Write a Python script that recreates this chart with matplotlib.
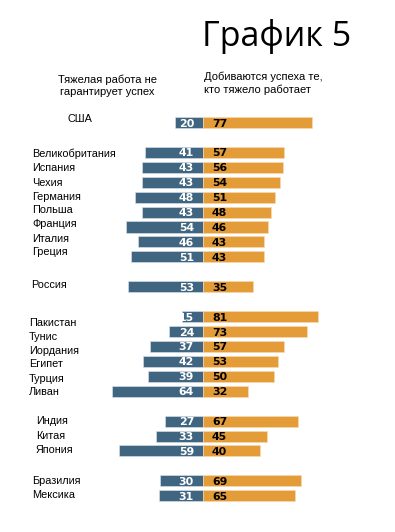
import matplotlib
matplotlib.use("Agg")
import matplotlib.pyplot as plt

# data
countries = ["США",
             "Великобритания", "Испания", "Чехия", "Германия", "Польша",
             "Франция", "Италия", "Греция",
             "Россия",
             "Пакистан", "Тунис", "Иордания", "Египет", "Турция", "Ливан",
             "Индия", "Китая", "Япония",
             "Бразилия", "Мексика"]
not_guarantee = [20, 41, 43, 43, 48, 43, 54, 46, 51, 53,
                 15, 24, 37, 42, 39, 64, 27, 33, 59, 30, 31]
hard_work = [77, 57, 56, 54, 51, 48, 46, 43, 43, 35,
             81, 73, 57, 53, 50, 32, 67, 45, 40, 69, 65]

# layout: slot index of each row (gaps between groups)
slots = [0, 2, 3, 4, 5, 6, 7, 8, 9, 11, 13, 14, 15, 16, 17, 18, 20, 21, 22, 24, 25]
label_x = [68, 32, 32, 32, 32, 32, 32, 32, 32, 31,
           29, 29, 29, 29, 29, 29, 36, 36, 36, 32, 32]   # px
label_dy = [-0.25, 0.1, 0.05, 0.05, 0, -0.15, -0.2, -0.2, -0.35, -0.1,
            0.4, 0.35, 0.3, 0.2, 0.15, 0.05, 0, 0, -0.05, 0, -0.05]

blue = "#3f6580"
orange = "#e49c38"

W, H = 395, 532
fig = plt.figure(figsize=(W / 100, H / 100), dpi=100)
fig.patch.set_facecolor("white")

# 1.42 px per percent, centre line at x=203 px, first row at y=122.5 px, 14.93 px per slot
ppu, cx = 1.42, 203
y0, step = 122.5, 14.93
ax = fig.add_axes([0, 0, 1, 1])
ax.set_xlim(-cx / ppu, (W - cx) / ppu)
ax.set_ylim((H - y0) / step, -y0 / step)
ax.axis("off")

neg = [-v for v in not_guarantee]
ax.barh(slots, neg, height=0.74, color=blue, edgecolor="#dde6ee", linewidth=0.4)
ax.barh(slots, hard_work, height=0.74, color=orange, edgecolor="#f6dcb5", linewidth=0.4)

num_font = dict(family="DejaVu Sans", fontweight="bold", fontsize=7.9, va="center")
for s, a, b in zip(slots, not_guarantee, hard_work):
    ax.text(-6.3, s + 0.07, str(a), ha="right", color="white", **num_font)
    ax.text(6.3, s + 0.07, str(b), ha="left", color="black", **num_font)

for name, s, lx, dy in zip(countries, slots, label_x, label_dy):
    ax.text((lx - cx) / ppu, s + dy, name, ha="left", va="center",
            fontsize=7.8, family="Liberation Sans", color="black")

fig.text(277 / W, 1 - 36 / H, "График 5", ha="center", va="center",
         fontsize=24.5, family="Open Sans", color="black")
fig.text(107 / W, 1 - 86 / H, "Тяжелая работа не\nгарантирует успех",
         ha="center", va="center", fontsize=8, family="Liberation Sans",
         linespacing=1.25)
fig.text(204 / W, 1 - 83 / H, "Добиваются успеха те,\nкто тяжело работает",
         ha="left", va="center", fontsize=8, family="Liberation Sans",
         linespacing=1.25)

fig.savefig("out.png", dpi=100, facecolor="white")
